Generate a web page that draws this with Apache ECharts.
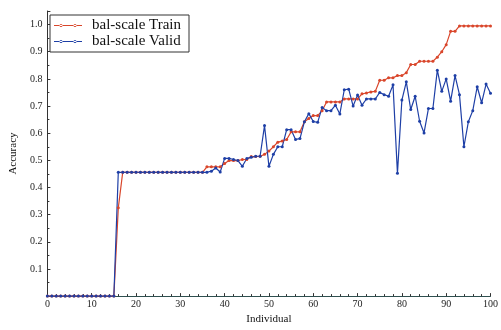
<!DOCTYPE html>
<html>
<head>
<meta charset="utf-8">
<script src="https://cdn.jsdelivr.net/npm/echarts@6/dist/echarts.min.js"></script>
<style>html,body{margin:0;padding:0;background:#fff}#c{width:501px;height:330px}</style>
</head>
<body>
<div id="c"></div>
<script>
var seriesNames = ['bal-scale Train', 'bal-scale Valid'];
var xTicks = [0, 10, 20, 30, 40, 50, 60, 70, 80, 90, 100];
var yTicks = [0.1, 0.2, 0.3, 0.4, 0.5, 0.6, 0.7, 0.8, 0.9, 1.0];
// Accuracy per individual 0..100
var trainAcc = [
  0, 0, 0, 0, 0, 0, 0, 0, 0, 0,
  0, 0, 0, 0, 0, 0, 0.325, 0.456, 0.456, 0.456,
  0.456, 0.456, 0.456, 0.456, 0.456, 0.456, 0.456, 0.456, 0.456, 0.456,
  0.456, 0.456, 0.456, 0.456, 0.456, 0.456, 0.476, 0.476, 0.476, 0.476,
  0.488, 0.499, 0.499, 0.499, 0.503, 0.503, 0.514, 0.514, 0.515, 0.522,
  0.534, 0.55, 0.567, 0.571, 0.577, 0.605, 0.605, 0.605, 0.642, 0.654,
  0.665, 0.665, 0.683, 0.715, 0.715, 0.715, 0.715, 0.726, 0.726, 0.726,
  0.726, 0.745, 0.748, 0.752, 0.754, 0.795, 0.795, 0.804, 0.804, 0.812,
  0.812, 0.823, 0.853, 0.853, 0.865, 0.865, 0.865, 0.865, 0.88, 0.9,
  0.926, 0.975, 0.975, 0.995, 0.995, 0.995, 0.995, 0.995, 0.995, 0.995,
  0.995
];
var validAcc = [
  0, 0, 0, 0, 0, 0, 0, 0, 0, 0,
  0, 0, 0, 0, 0, 0, 0.456, 0.456, 0.456, 0.456,
  0.456, 0.456, 0.456, 0.456, 0.456, 0.456, 0.456, 0.456, 0.456, 0.456,
  0.456, 0.456, 0.456, 0.456, 0.456, 0.456, 0.456, 0.46, 0.472, 0.457,
  0.507, 0.507, 0.503, 0.499, 0.478, 0.507, 0.511, 0.515, 0.515, 0.628,
  0.478, 0.522, 0.55, 0.55, 0.613, 0.613, 0.577, 0.58, 0.642, 0.672,
  0.643, 0.64, 0.695, 0.683, 0.683, 0.703, 0.671, 0.76, 0.762, 0.70,
  0.741, 0.703, 0.726, 0.726, 0.726, 0.75, 0.742, 0.736, 0.778, 0.452,
  0.722, 0.789, 0.687, 0.736, 0.644, 0.601, 0.691, 0.691, 0.832, 0.754,
  0.80, 0.718, 0.812, 0.742, 0.55, 0.642, 0.683, 0.771, 0.712, 0.781,
  0.747
];

function pairs(arr) { return arr.map(function (v, i) { return [i, v]; }); }

var legendIcon = 'path://M0,1.1H28V1.9H0Z M5.5,1.5a1.5,1.5 0 1,0 3,0a1.5,1.5 0 1,0 -3,0Z M19.5,1.5a1.5,1.5 0 1,0 3,0a1.5,1.5 0 1,0 -3,0Z';

var chart = echarts.init(document.getElementById('c'), null, {renderer: 'canvas'});
var serif = '"Liberation Serif", "DejaVu Serif", serif';
chart.setOption({
  animation: false,
  backgroundColor: '#fff',
  grid: {left: 41, right: 7, top: 11, bottom: 21, containLabel: false},
  legend: {
    orient: 'vertical', left: 50, top: 15,
    padding: [3, 8, 3, 4], itemGap: 1, itemWidth: 28, itemHeight: 3,
    borderColor: '#333', borderWidth: 1, backgroundColor: '#fff',
    icon: legendIcon,
    textStyle: {fontFamily: serif, fontSize: 15, color: '#111', padding: [0, 0, 0, 5], lineHeight: 15},
    data: seriesNames
  },
  xAxis: {
    type: 'value', min: xTicks[0], max: xTicks[xTicks.length - 1], interval: 10,
    name: 'Individual', nameLocation: 'middle', nameGap: 9,
    nameTextStyle: {fontFamily: serif, fontSize: 11, color: '#111'},
    axisLine: {lineStyle: {color: '#2f4f4f', width: 1}},
    axisTick: {inside: true, length: 3, lineStyle: {color: '#333'}},
    minorTick: {show: true, splitNumber: 5, length: 2, lineStyle: {color: '#333'}},
    axisLabel: {fontFamily: serif, fontSize: 10, color: '#222', margin: 3},
    splitLine: {show: false}
  },
  yAxis: {
    type: 'value', min: 0, max: 1.05, interval: 0.1,
    name: 'Accuracy', nameLocation: 'middle', nameGap: 21, nameRotate: 90,
    nameTextStyle: {fontFamily: serif, fontSize: 11, color: '#111'},
    axisLine: {show: true, lineStyle: {color: '#333', width: 1}},
    axisTick: {show: true, inside: true, length: 3, lineStyle: {color: '#333'}},
    minorTick: {show: true, splitNumber: 2, length: 2, lineStyle: {color: '#333'}},
    axisLabel: {
      fontFamily: serif, fontSize: 10, color: '#222', margin: 5,
      formatter: function (v) {
        for (var k = 0; k < yTicks.length; k++) {
          if (Math.abs(yTicks[k] - v) < 1e-6) return yTicks[k].toFixed(1);
        }
        return '';
      }
    },
    splitLine: {show: false}
  },
  series: [
    {
      name: seriesNames[0], type: 'line', data: pairs(trainAcc),
      symbol: 'circle', symbolSize: 3, showSymbol: true,
      itemStyle: {color: '#d9462b'}, lineStyle: {color: '#d9462b', width: 1.2}
    },
    {
      name: seriesNames[1], type: 'line', data: pairs(validAcc),
      symbol: 'circle', symbolSize: 3, showSymbol: true,
      itemStyle: {color: '#1e3fa6'}, lineStyle: {color: '#1e3fa6', width: 1.2}
    }
  ]
});
</script>
</body>
</html>
